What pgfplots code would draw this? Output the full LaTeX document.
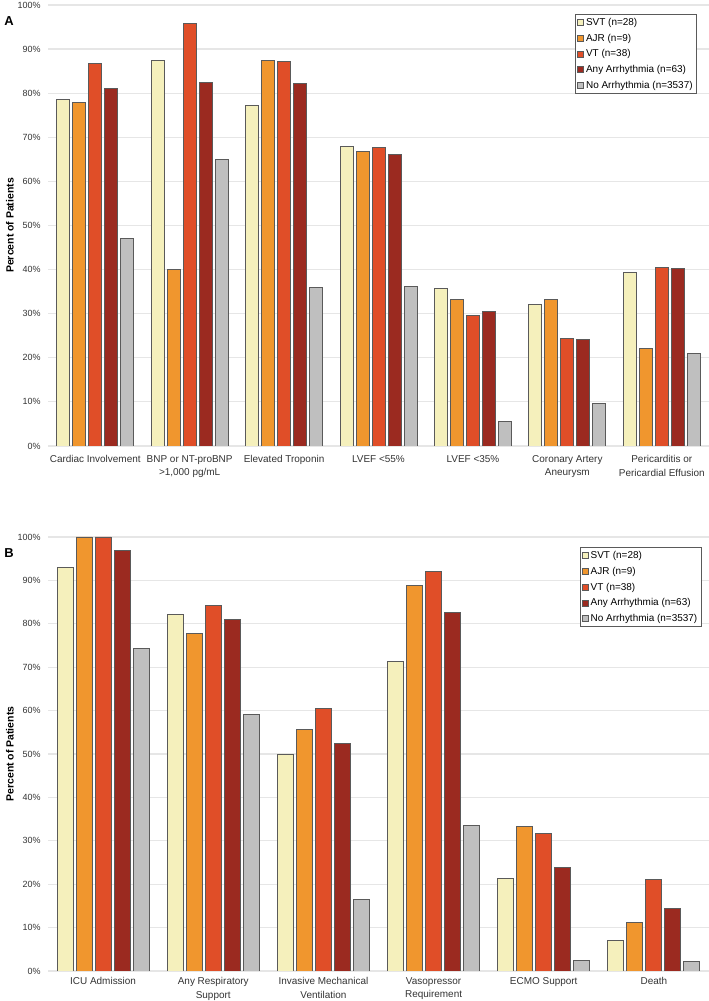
\documentclass[border=0pt]{standalone}
\usepackage{fontspec}
\setmainfont{Liberation Sans}
\usepackage{pgfplots}
\pgfplotsset{compat=1.18}
\usepackage{pgfplotstable}

\definecolor{cSVT}{HTML}{F5F0BC}
\definecolor{cAJR}{HTML}{F0962E}
\definecolor{cVT}{HTML}{E04E28}
\definecolor{cAny}{HTML}{9B2A20}
\definecolor{cNo}{HTML}{BFBFBF}
\definecolor{edge}{HTML}{5A5A5A}
\definecolor{gridc}{HTML}{E6E6E6}
\definecolor{txt}{HTML}{333333}

% panel A: cardiac findings
\pgfplotstableread{
x svt ajr vt any no
0 78.6 77.8 86.8 81.0 47.0
1 87.5 40.0 95.7 82.5 65.0
2 77.3 87.5 87.1 82.3 36.0
3 67.9 66.7 67.6 66.1 36.1
4 35.7 33.3 29.7 30.6 5.5
5 32.1 33.3 24.3 24.2 9.6
6 39.3 22.2 40.5 40.3 21.0
}\tableA

% panel B: severity outcomes
\pgfplotstableread{
x svt ajr vt any no
0 92.9 100 100 96.8 74.3
1 82.1 77.8 84.2 81.0 59.0
2 50.0 55.6 60.5 52.4 16.5
3 71.4 88.9 92.1 82.5 33.6
4 21.4 33.3 31.6 23.8 2.5
5 7.1 11.1 21.1 14.3 2.2
}\tableB

\pgfplotsset{
  sq legend/.style={legend image code/.code={\draw[##1, line width=0.6bp] (0bp,-3bp) rectangle (6bp,3bp);}},
  panel/.style={
    scale only axis, width=661bp,
    ymin=0, ymax=100, ytick={0,10,...,100},
    yticklabel={\pgfmathprintnumber{\tick}\%},
    /pgf/number format/assume math mode=true,
    ymajorgrids, grid style={line width=1.2bp, gridc},
    axis line style={draw=none}, major tick length=0pt,
    xtick=data, ybar,
    xticklabel style={font=\fontsize{10}{13.5}\selectfont, color=txt, align=center, yshift=-6bp},
    yticklabel style={font=\fontsize{9}{11}\selectfont, color=txt, xshift=-4bp},
    ylabel={Percent of Patients},
    every axis y label/.style={at={(axis description cs:-0.0575,0.5)}, rotate=90, anchor=center,
      font=\bfseries\fontsize{10.5}{12}\selectfont},
    every axis plot/.append style={draw=edge, line width=0.9bp},
    every axis plot post/.append style={sq legend},
    legend cell align=left,
    legend style={draw=edge, line width=0.9bp, font=\fontsize{10}{12}\selectfont,
      row sep=3bp, inner sep=2bp},
  },
}

\begin{document}
\begin{tikzpicture}[x=1bp,y=1bp]
\useasboundingbox (0,0) rectangle (709,1001);

\begin{axis}[panel, at={(48bp,555bp)}, height=441bp,
    xmin=-0.5, xmax=6.5, bar width=13bp, ybar=3bp,
    xticklabels={Cardiac Involvement, {BNP or NT-proBNP\\>1,000 pg/mL}, Elevated Troponin,
      LVEF <55\%, LVEF <35\%, {Coronary Artery\\Aneurysm}, {Pericarditis or\\Pericardial Effusion}},
    legend style={at={(0.982,0.98)}, anchor=north east}]
\addplot[fill=cSVT] table[x=x,y=svt]{\tableA};
\addplot[fill=cAJR] table[x=x,y=ajr]{\tableA};
\addplot[fill=cVT] table[x=x,y=vt]{\tableA};
\addplot[fill=cAny] table[x=x,y=any]{\tableA};
\addplot[fill=cNo] table[x=x,y=no]{\tableA};
\legend{SVT (n=28), AJR (n=9), VT (n=38), Any Arrhythmia (n=63), No Arrhythmia (n=3537)}
\end{axis}

\begin{axis}[panel, at={(48bp,30bp)}, height=434bp,
    xmin=-0.5, xmax=5.5, bar width=16bp, ybar=3bp,
    xticklabel style={yshift=3bp},
    xticklabels={ICU Admission, {Any Respiratory\\Support}, {Invasive Mechanical\\Ventilation},
      {Vasopressor\\Requirement}, ECMO Support, Death},
    legend style={at={(0.989,0.977)}, anchor=north east}]
\addplot[fill=cSVT] table[x=x,y=svt]{\tableB};
\addplot[fill=cAJR] table[x=x,y=ajr]{\tableB};
\addplot[fill=cVT] table[x=x,y=vt]{\tableB};
\addplot[fill=cAny] table[x=x,y=any]{\tableB};
\addplot[fill=cNo] table[x=x,y=no]{\tableB};
\legend{SVT (n=28), AJR (n=9), VT (n=38), Any Arrhythmia (n=63), No Arrhythmia (n=3537)}
\end{axis}

\node[font=\bfseries\fontsize{13}{13}\selectfont] at (9,980) {A};
\node[font=\bfseries\fontsize{13}{13}\selectfont] at (9,448) {B};
\end{tikzpicture}
\end{document}
